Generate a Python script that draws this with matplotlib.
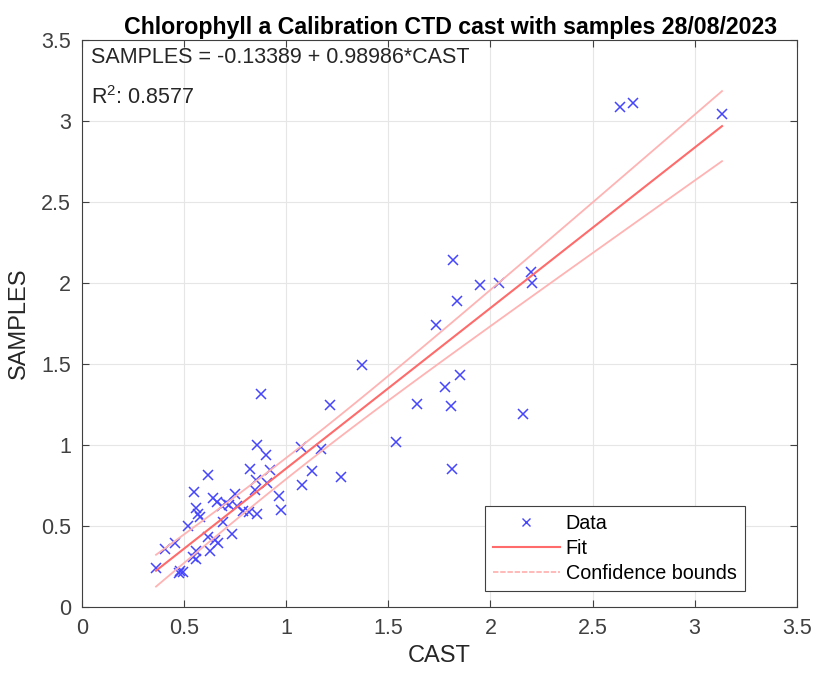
import numpy as np
import matplotlib.pyplot as plt
from matplotlib.lines import Line2D

plt.rcParams['font.family'] = ['Liberation Sans', 'DejaVu Sans']

# CTD cast vs lab samples
cast = [2.633, 2.70, 3.134, 1.816, 1.948, 2.04, 2.198, 2.204, 1.834, 1.733,
        1.369, 1.85, 1.777, 1.638, 1.805, 2.157, 0.876, 1.214, 1.537, 0.855,
        0.899, 1.07, 1.17, 0.822, 0.92, 1.127, 1.81, 0.618, 1.27, 0.852,
        0.904, 1.078, 0.548, 0.964, 0.749, 0.847, 0.643, 0.662, 0.683, 0.558,
        0.757, 0.79, 0.819, 0.858, 0.972, 0.568, 0.577, 0.517, 0.688, 0.733,
        0.618, 0.651, 0.667, 0.627, 0.455, 0.406, 0.556, 0.545, 0.558, 0.362,
        0.48, 0.493, 0.476, 0.705, 0.72]
samples = [3.085, 3.113, 3.045, 2.14, 1.99, 2.00, 2.07, 1.998, 1.889, 1.74,
           1.496, 1.434, 1.358, 1.255, 1.239, 1.19, 1.315, 1.245, 1.018, 0.998,
           0.94, 0.986, 0.977, 0.85, 0.846, 0.841, 0.85, 0.815, 0.80, 0.784,
           0.767, 0.753, 0.708, 0.685, 0.697, 0.722, 0.671, 0.65, 0.623, 0.613,
           0.625, 0.593, 0.588, 0.574, 0.597, 0.574, 0.557, 0.502, 0.527, 0.45,
           0.434, 0.414, 0.397, 0.348, 0.397, 0.356, 0.348, 0.31, 0.294, 0.239,
           0.224, 0.214, 0.208, 0.64, 0.63]

b0, b1 = -0.13389, 0.98986
r2 = 0.8577

x = np.array(cast)
y = np.array(samples)
n = len(x)
xf = np.linspace(x.min(), x.max(), 100)
yf = b0 + b1 * xf
s = np.sqrt(np.sum((y - (b0 + b1 * x)) ** 2) / (n - 2))
sxx = np.sum((x - x.mean()) ** 2)
half = 2.0 * s * np.sqrt(1 / n + (xf - x.mean()) ** 2 / sxx)

fig = plt.figure(figsize=(8.13, 6.73), dpi=100)
ax = fig.add_axes([0.101, 0.098, 0.879, 0.8426])

ax.plot(x, y, 'x', color='#4646ff', markersize=7, markeredgewidth=1.1)
ax.plot(xf, yf, color='#ff6a6a', lw=1.5)
ax.plot(xf, yf + half, color='#ffb3b3', lw=1.3)
ax.plot(xf, yf - half, color='#ffb3b3', lw=1.3)

ax.set_xlim(0, 3.5)
ax.set_ylim(0, 3.5)
ax.set_xticks(np.arange(0, 3.6, 0.5))
ax.set_yticks(np.arange(0, 3.6, 0.5))
ax.set_xticklabels(['0', '0.5', '1', '1.5', '2', '2.5', '3', '3.5'])
ax.set_yticklabels(['0', '0.5', '1', '1.5', '2', '2.5', '3', '3.5'])
ax.tick_params(direction='in', top=True, right=True, labelsize=15.5, colors='#404040',
               length=5, pad=8)
ax.grid(True, color='#e6e6e6', lw=0.8)
ax.set_axisbelow(True)
for sp in ax.spines.values():
    sp.set_color('#404040')
    sp.set_linewidth(0.8)

ax.set_xlabel('CAST', fontsize=17, color='#262626', labelpad=4)
ax.set_ylabel('SAMPLES', fontsize=17, color='#262626', labelpad=8)
ax.set_title('Chlorophyll a Calibration CTD cast with samples 28/08/2023',
             fontsize=16.7, fontweight='bold', pad=4, x=0.515)

ax.text(0.012, 0.988, 'SAMPLES = %.5f + %.5f*CAST' % (b0, b1), transform=ax.transAxes,
        fontsize=15.5, va='top', color='#262626')
ax.text(0.012, 0.918, '$\\mathregular{R^2}$: %.4f' % r2, transform=ax.transAxes,
        fontsize=15.5, va='top', color='#262626')

handles = [Line2D([], [], ls='none', marker='x', color='#4646ff', markersize=6),
           Line2D([], [], color='#ff6a6a', lw=1.5),
           Line2D([], [], color='#ffb3b3', lw=1.3, ls=(0, (3, 1)))]
leg = ax.legend(handles, ['Data', 'Fit', 'Confidence bounds'], loc='lower right',
                bbox_to_anchor=(0.927, 0.029), fontsize=14.2,
                fancybox=False, edgecolor='#404040', framealpha=1,
                handlelength=3.4, borderpad=0.4, labelspacing=0.3,
                handletextpad=0.3, borderaxespad=0)
leg.get_frame().set_linewidth(0.8)

fig.savefig('out.png', dpi=100)
